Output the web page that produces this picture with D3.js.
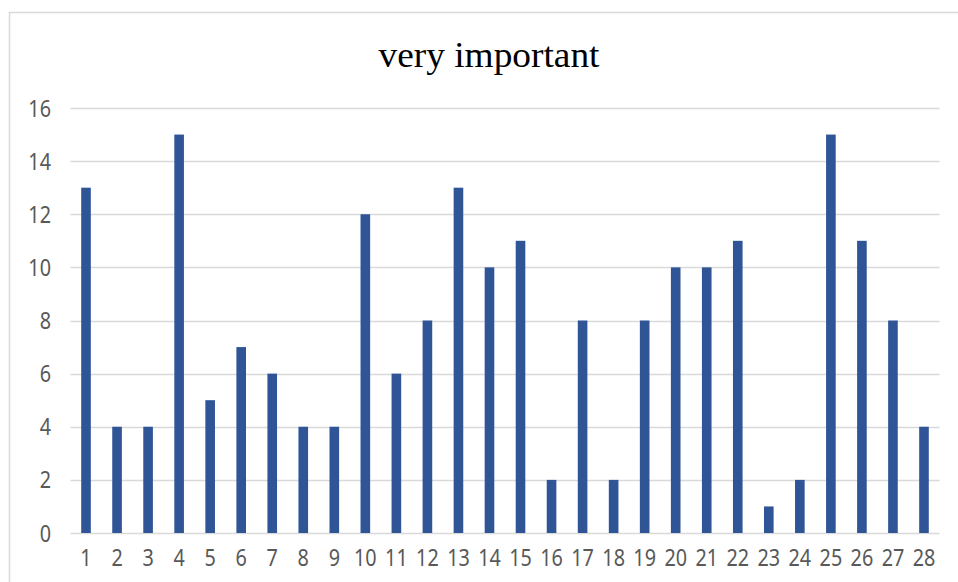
<!DOCTYPE html>
<html>
<head>
<meta charset="utf-8">
<script src="https://cdn.jsdelivr.net/npm/d3@7"></script>
<style>
  html, body { margin: 0; padding: 0; background: #fff; }
  svg { display: block; }
</style>
</head>
<body>
<svg id="chart" width="958" height="582"></svg>
<script>
// Category labels along the x axis
const categories = ["1","2","3","4","5","6","7","8","9","10","11","12","13","14",
  "15","16","17","18","19","20","21","22","23","24","25","26","27","28"];
// Count of "very important" answers per item
const values = [13,4,4,15,5,7,6,4,4,12,6,8,13,10,11,2,8,2,8,10,10,11,1,2,15,11,8,4];
// Y axis tick values
const yTicks = [0,2,4,6,8,10,12,14,16];
const title = "very important";

const svg = d3.select("#chart");
const W = 958, H = 582;
const plot = { left: 70.5, right: 939.5, top: 108, bottom: 533 };

// Chart frame (left and top edges visible)
svg.append("path")
  .attr("d", `M9.5,${H} V12.5 H${W}`)
  .attr("fill", "none")
  .attr("stroke", "#d9d9d9")
  .attr("stroke-width", 1.5);

const x = d3.scaleBand()
  .domain(categories)
  .range([plot.left, plot.right])
  .paddingInner(0.69)
  .paddingOuter(0.345);

const y = d3.scaleLinear()
  .domain([0, 16])
  .range([plot.bottom, plot.top]);

// Horizontal gridlines
svg.append("g")
  .selectAll("line")
  .data(yTicks)
  .join("line")
  .attr("x1", plot.left)
  .attr("x2", plot.right)
  .attr("y1", d => Math.round(y(d)) + 0.5)
  .attr("y2", d => Math.round(y(d)) + 0.5)
  .attr("stroke", "#d9d9d9")
  .attr("stroke-width", 1.5);

// Narrow the tick digits a little so they read tall and slim
function condense(sel) {
  sel.each(function () {
    const len = this.getComputedTextLength();
    d3.select(this)
      .attr("textLength", len * 0.86)
      .attr("lengthAdjust", "spacingAndGlyphs");
  });
}

// Y axis labels
const yAxis = d3.axisLeft(y).tickValues(yTicks).tickSize(0).tickPadding(0);
svg.append("g")
  .attr("transform", `translate(51,0)`)
  .call(yAxis)
  .call(g => g.select(".domain").remove())
  .selectAll("text")
  .attr("font-family", "'Noto Sans', sans-serif")
  .attr("font-size", 23)
  .attr("fill", "#595959")
  .attr("dy", "0.35em")
  .call(condense);

// X axis labels
const xAxis = d3.axisBottom(x).tickSize(0).tickPadding(0);
svg.append("g")
  .attr("transform", `translate(0,${plot.bottom + 25})`)
  .call(xAxis)
  .call(g => g.select(".domain").remove())
  .selectAll("text")
  .attr("font-family", "'Noto Sans', sans-serif")
  .attr("font-size", 23)
  .attr("fill", "#595959")
  .attr("dy", "0.35em")
  .call(condense);

// Bars
svg.append("g")
  .selectAll("rect")
  .data(values)
  .join("rect")
  .attr("x", (d, i) => x(categories[i]))
  .attr("width", x.bandwidth())
  .attr("y", d => y(d))
  .attr("height", d => y(0) - y(d))
  .attr("fill", "#2f5597");

// Title
svg.append("text")
  .attr("x", 489)
  .attr("y", 67)
  .attr("text-anchor", "middle")
  .attr("font-family", "'Liberation Serif', 'Times New Roman', serif")
  .attr("font-size", 35)
  .attr("textLength", 221)
  .attr("lengthAdjust", "spacingAndGlyphs")
  .attr("fill", "#000")
  .text(title);
</script>
</body>
</html>
